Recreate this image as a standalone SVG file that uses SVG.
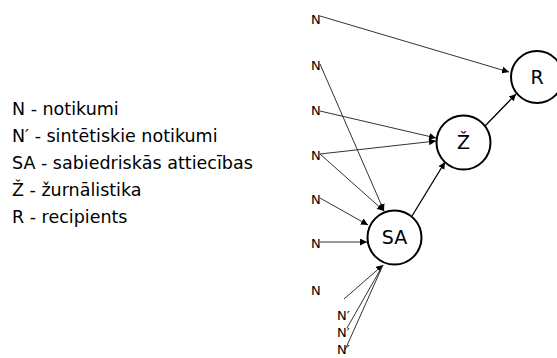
<svg xmlns="http://www.w3.org/2000/svg" width="557" height="358" viewBox="0 0 557 358">
<style>
.lg{font-family:"DejaVu Sans","Liberation Sans",sans-serif;font-size:17.5px;fill:#000}
.nl{font-family:"DejaVu Sans","Liberation Sans",sans-serif;font-size:13px;fill:#000}
.node circle{fill:#fff;stroke:#000;stroke-width:2}
.node text{font-family:"DejaVu Sans","Liberation Sans",sans-serif;font-size:19px;fill:#000;text-anchor:middle}
.e{stroke:#333;stroke-width:1;fill:none;marker-end:url(#ah)}
.e2{stroke:#000;stroke-width:1.3;fill:none;marker-end:url(#ah)}
.l{stroke:#333;stroke-width:1;fill:none}
</style>
<defs>
<marker id="ah" viewBox="0 0 10 10" refX="10" refY="5" markerWidth="7" markerHeight="7" markerUnits="userSpaceOnUse" orient="auto">
<path d="M0,0 L10,5 L0,10 z" fill="#000"/>
</marker>
</defs>
<rect width="557" height="358" fill="#fff"/>
<g id="legend">
<text class="lg" x="12" y="115">N - notikumi</text>
<text class="lg" x="12" y="142">N′ - sintētiskie notikumi</text>
<text class="lg" x="12" y="169">SA - sabiedriskās attiecības</text>
<text class="lg" x="12" y="196">Ž - žurnālistika</text>
<text class="lg" x="12" y="223">R - recipients</text>
</g>
<g id="connectors">
<line class="e" x1="320" y1="16" x2="509" y2="72"/>
<line class="e" x1="320" y1="64" x2="384" y2="211"/>
<line class="e" x1="320" y1="111" x2="436" y2="138"/>
<line class="e" x1="320" y1="154" x2="436" y2="141"/>
<line class="e" x1="320" y1="154" x2="384" y2="211"/>
<line class="e" x1="320" y1="198" x2="368" y2="225"/>
<line class="e" x1="320" y1="242" x2="367" y2="242"/>
<line class="e" x1="344" y1="299" x2="383" y2="265"/>
<line class="l" x1="347" y1="328" x2="383" y2="265"/>
<line class="l" x1="345" y1="350" x2="383" y2="265"/>
<line class="e2" x1="412" y1="216" x2="445" y2="162"/>
<line class="e2" x1="485" y1="126" x2="516" y2="94"/>
</g>
<g id="labels">
<text class="nl" x="311" y="24">N</text>
<text class="nl" x="311" y="70">N</text>
<text class="nl" x="311" y="115">N</text>
<text class="nl" x="311" y="160">N</text>
<text class="nl" x="311" y="204">N</text>
<text class="nl" x="311" y="248">N</text>
<text class="nl" x="311" y="295">N</text>
<text class="nl" x="337" y="320">N′</text>
<text class="nl" x="337" y="337">N′</text>
<text class="nl" x="337" y="354">N′</text>
</g>
<g id="node-R" class="node"><circle cx="537" cy="77" r="26"/><text x="537" y="84">R</text></g>
<g id="node-Z" class="node"><circle cx="463.5" cy="142.5" r="27"/><text x="463.5" y="149">Ž</text></g>
<g id="node-SA" class="node"><circle cx="394.5" cy="237.5" r="27"/><text x="394.5" y="244">SA</text></g>
</svg>
